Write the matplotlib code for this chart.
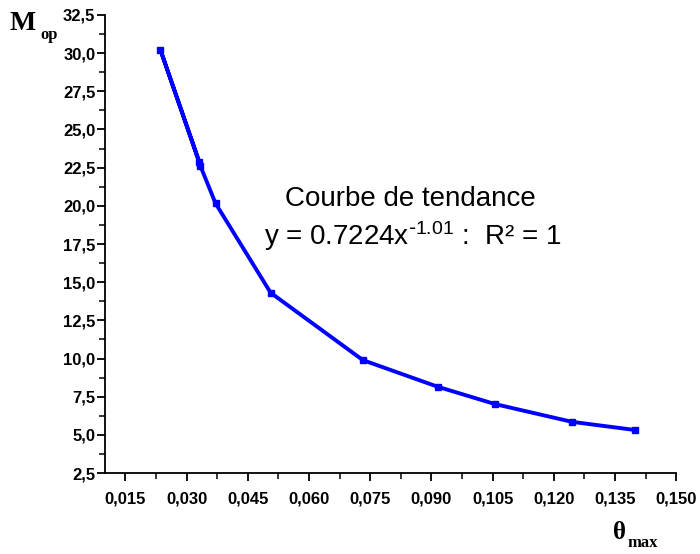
import matplotlib
matplotlib.use("Agg")
import matplotlib.pyplot as plt
from matplotlib.ticker import FixedLocator, MultipleLocator

# Measured points (theta_max, M_op)
theta_max = [0.0331, 0.0236, 0.0334, 0.0371, 0.0506, 0.0732, 0.0916, 0.1056, 0.1244, 0.1400]
m_op = [22.9, 30.2, 22.6, 20.16, 14.31, 9.90, 8.15, 7.02, 5.86, 5.32]

x_ticks = [0.015, 0.030, 0.045, 0.060, 0.075, 0.090, 0.105, 0.120, 0.135, 0.150]
x_labels = ["0,015", "0,030", "0,045", "0,060", "0,075", "0,090", "0,105", "0,120", "0,135", "0,150"]
y_ticks = [2.5, 5.0, 7.5, 10.0, 12.5, 15.0, 17.5, 20.0, 22.5, 25.0, 27.5, 30.0, 32.5]
y_labels = ["2,5", "5,0", "7,5", "10,0", "12,5", "15,0", "17,5", "20,0", "22,5", "25,0", "27,5", "30,0", "32,5"]

plt.rcParams["font.family"] = ["Liberation Sans", "DejaVu Sans"]

fig = plt.figure(figsize=(7.0, 5.54), dpi=100)
ax = fig.add_axes([0.15, 0.146, 0.816, 0.827])

ax.plot(theta_max, m_op, color="#0000ff", lw=2.8, marker="s", ms=4.5,
        markeredgecolor="#0000ff", markerfacecolor="#0000ff")

ax.set_xlim(0.01, 0.15)
ax.set_ylim(2.5, 32.5)

ax.xaxis.set_major_locator(FixedLocator(x_ticks))
ax.set_xticklabels(x_labels)
ax.xaxis.set_minor_locator(MultipleLocator(0.0075))
ax.yaxis.set_major_locator(FixedLocator(y_ticks))
ax.set_yticklabels(y_labels)
ax.yaxis.set_minor_locator(MultipleLocator(1.25))

for side in ("top", "right"):
    ax.spines[side].set_visible(False)
for side in ("left", "bottom"):
    ax.spines[side].set_linewidth(1.3)

ax.tick_params(which="major", direction="out", length=6, width=1.3,
               labelsize=12)
ax.tick_params(which="minor", direction="out", length=4, width=1.1)
for lab in ax.get_xticklabels() + ax.get_yticklabels():
    lab.set_fontweight("bold")
ax.tick_params(axis="x", which="major", pad=7)
ax.tick_params(axis="y", which="major", pad=1)

# trend-curve annotation
ax.text(0.534, 0.598, "Courbe de tendance", transform=ax.transAxes,
        ha="center", va="center", fontsize=20)
ax.text(0.538, 0.517, r"y = 0.7224x$\mathregular{^{\text{-}1.01}}$ :  R² = 1",
        transform=ax.transAxes, ha="center", va="center", fontsize=20)

# axis titles
serif = ["Liberation Serif", "DejaVu Serif"]
fig.text(0.014, 0.957, "M", family=serif, fontweight="bold", fontsize=20,
         ha="left", va="center")
fig.text(0.058, 0.937, "op", family=serif, fontweight="bold", fontsize=12,
         ha="left", va="center")
fig.text(0.876, 0.038, "θ", family=serif, fontweight="bold", fontsize=18,
         ha="left", va="center")
fig.text(0.897, 0.020, "max", family=serif, fontweight="bold", fontsize=12,
         ha="left", va="center")

fig.savefig("out.png", dpi=100)
